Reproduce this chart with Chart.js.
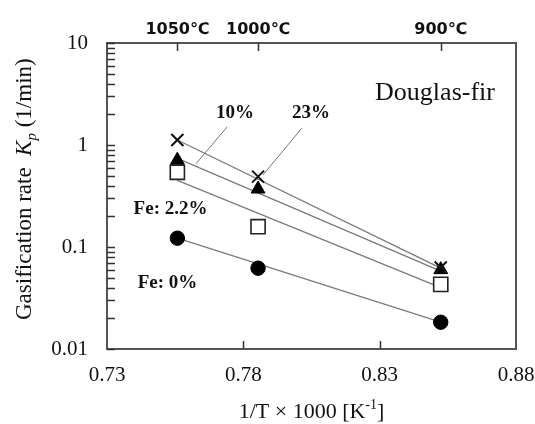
<!DOCTYPE html>
<html>
<head>
<meta charset="utf-8">
<script src="https://cdn.jsdelivr.net/npm/chart.js@4/dist/chart.umd.min.js"></script>
<style>
  body { margin: 0; background: #fff; }
  #wrap { width: 535px; height: 424px; }
</style>
</head>
<body>
<div id="wrap"><canvas id="rateChart"></canvas></div>
<script>
// temperatures on the top axis and their 1/T x 1000 positions
const tempLabels = ["1050℃", "1000℃", "900℃"];
const invT = [0.7558, 0.7854, 0.8524];

// measured gasification rates Kp (1/min)
const fe23 = [1.12, 0.49, 0.063];    // crosses, 23%
const fe10 = [0.71, 0.37, 0.060];    // filled triangles, 10%
const fe22 = [0.54, 0.158, 0.043];   // open squares, Fe: 2.2%
const fe0 = [0.122, 0.062, 0.0183];  // filled circles, Fe: 0%

// fitted lines (at the two end temperatures)
const fitX = [0.7558, 0.8524];
const fit23 = [1.12, 0.062];
const fit10 = [0.74, 0.058];
const fit22 = [0.45, 0.040];
const fit0 = [0.122, 0.0183];

// axis ticks
const xTicks = [0.73, 0.78, 0.83, 0.88];
const yTicks = [0.01, 0.1, 1, 10];

const SERIF = "'Liberation Serif', 'Times New Roman', serif";

function pts(xs, ys) {
    return xs.map((v, i) => ({ x: v, y: ys[i] }));
}

// **Markers**
function markerSet(data, style, radius, fill, border, bw) {
    return {
        data: pts(invT, data),
        showLine: false,
        pointStyle: style,
        pointRadius: radius,
        pointHoverRadius: radius,
        pointBackgroundColor: fill,
        pointBorderColor: border,
        pointBorderWidth: bw,
        order: 0
    };
}

// **Fit lines**
function lineSet(data) {
    return {
        data: pts(fitX, data),
        showLine: true,
        pointRadius: 0,
        borderColor: "#7a7a7a",
        borderWidth: 1.3,
        order: 1
    };
}

// **Extra drawing: box, inward ticks, axis titles, notes**
const extras = {
    id: "extras",
    afterDraw(chart) {
        const { ctx, chartArea: a, scales } = chart;
        const x = scales.x, y = scales.y;
        ctx.save();
        ctx.strokeStyle = "#555";
        ctx.lineWidth = 2;
        ctx.beginPath();
        ctx.moveTo(a.right, a.top - 1);
        ctx.lineTo(a.right, a.bottom + 1);
        ctx.stroke();

        ctx.lineWidth = 1.5;
        ctx.strokeStyle = "#333";
        ctx.beginPath();
        // log minor ticks on the left axis
        for (let d = 0.01; d < 10; d *= 10) {
            for (let m = 1; m <= 10; m++) {
                const py = Math.round(y.getPixelForValue(d * m)) + 0.5;
                ctx.moveTo(a.left, py);
                ctx.lineTo(a.left + 8, py);
            }
        }
        // bottom ticks
        xTicks.slice(1, -1).forEach(v => {
            const px = Math.round(x.getPixelForValue(v)) + 0.5;
            ctx.moveTo(px, a.bottom);
            ctx.lineTo(px, a.bottom - 8);
        });
        // top ticks
        invT.forEach(v => {
            const px = Math.round(x.getPixelForValue(v)) + 0.5;
            ctx.moveTo(px, a.top);
            ctx.lineTo(px, a.top + 8);
        });
        ctx.stroke();

        // leader lines
        ctx.strokeStyle = "#777";
        ctx.lineWidth = 1;
        ctx.beginPath();
        ctx.moveTo(x.getPixelForValue(0.7740), y.getPixelForValue(1.50));
        ctx.lineTo(x.getPixelForValue(0.7626), y.getPixelForValue(0.652));
        ctx.moveTo(x.getPixelForValue(0.8015), y.getPixelForValue(1.47));
        ctx.lineTo(x.getPixelForValue(0.7872), y.getPixelForValue(0.508));
        ctx.stroke();

        // notes
        ctx.fillStyle = "#111";
        ctx.textAlign = "center";
        ctx.textBaseline = "middle";
        ctx.font = "bold 19px " + SERIF;
        ctx.fillText("10%", x.getPixelForValue(0.7769), y.getPixelForValue(2.06));
        ctx.fillText("23%", x.getPixelForValue(0.8048), y.getPixelForValue(2.06));
        ctx.fillText("Fe: 2.2%", x.getPixelForValue(0.7533), y.getPixelForValue(0.236));
        ctx.fillText("Fe: 0%", x.getPixelForValue(0.7522), y.getPixelForValue(0.0444));
        ctx.font = "26px " + SERIF;
        ctx.fillText("Douglas-fir", x.getPixelForValue(0.8503), y.getPixelForValue(3.24));

        // x title with superscript
        ctx.textAlign = "left";
        ctx.textBaseline = "alphabetic";
        const t1 = "1/T × 1000 [K", t3 = "]";
        ctx.font = "14px " + SERIF;
        const w2 = ctx.measureText("-1").width;
        ctx.font = "22px " + SERIF;
        const w1 = ctx.measureText(t1).width, w3 = ctx.measureText(t3).width;
        let tx = (a.left + a.right) / 2 - (w1 + w2 + w3) / 2;
        const ty = 418;
        ctx.fillText(t1, tx, ty);
        ctx.font = "14px " + SERIF;
        ctx.fillText("-1", tx + w1, ty - 9);
        ctx.font = "22px " + SERIF;
        ctx.fillText(t3, tx + w1 + w2, ty);

        // y title with italic K and subscript p
        ctx.translate(31, 320);
        ctx.rotate(-Math.PI / 2);
        let px = 0;
        ctx.font = "23px " + SERIF;
        ctx.fillText("Gasification rate  ", px, 0);
        px += ctx.measureText("Gasification rate  ").width;
        ctx.font = "italic 23px " + SERIF;
        ctx.fillText("K", px, 0);
        px += ctx.measureText("K").width;
        ctx.font = "italic 15px " + SERIF;
        ctx.fillText("p", px, 5);
        px += ctx.measureText("p").width;
        ctx.font = "23px " + SERIF;
        ctx.fillText(" (1/min)", px, 0);
        ctx.restore();
    }
};

const ctx = document.getElementById("rateChart").getContext("2d");
new Chart(ctx, {
    type: "scatter",
    data: {
        datasets: [
            markerSet(fe23, "crossRot", 8.5, "#000", "#111", 2),
            markerSet(fe10, "triangle", 8, "#000", "#000", 1),
            markerSet(fe22, "rect", 10, "#fff", "#222", 1.6),
            markerSet(fe0, "circle", 7.2, "#000", "#000", 1),
            lineSet(fit23),
            lineSet(fit10),
            lineSet(fit22),
            lineSet(fit0)
        ]
    },
    options: {
        responsive: true,
        maintainAspectRatio: false,
        animation: false,
        layout: { padding: { left: 0, right: 19, top: 0, bottom: 0 } },
        plugins: {
            legend: { display: false },
            tooltip: { enabled: false }
        },
        scales: {
            x: {
                type: "linear",
                position: "bottom",
                min: 0.73,
                max: 0.88,
                afterBuildTicks: s => { s.ticks = xTicks.map(v => ({ value: v })); },
                afterFit: s => { s.height = 75; s.paddingLeft = 0; s.paddingRight = 0; },
                ticks: {
                    callback: v => v.toFixed(2),
                    font: { family: SERIF, size: 21 },
                    color: "#111",
                    padding: 14,
                    maxRotation: 0
                },
                grid: { display: false, drawTicks: false },
                border: { display: true, color: "#555", width: 2 }
            },
            x2: {
                type: "linear",
                position: "top",
                min: 0.73,
                max: 0.88,
                afterBuildTicks: s => { s.ticks = invT.map(v => ({ value: v })); },
                afterFit: s => { s.height = 43; s.paddingLeft = 0; s.paddingRight = 0; },
                ticks: {
                    callback: (v, i) => tempLabels[i],
                    font: { family: "'DejaVu Sans', sans-serif", size: 16, weight: "bold" },
                    color: "#111",
                    padding: 4,
                    maxRotation: 0
                },
                grid: { display: false, drawTicks: false },
                border: { display: true, color: "#555", width: 2 }
            },
            y: {
                type: "logarithmic",
                min: 0.01,
                max: 10,
                afterBuildTicks: s => { s.ticks = yTicks.map(v => ({ value: v })); },
                afterFit: s => { s.width = 107; },
                ticks: {
                    callback: v => String(v),
                    font: { family: SERIF, size: 21 },
                    color: "#111",
                    padding: 19
                },
                grid: { display: false, drawTicks: false },
                border: { display: true, color: "#555", width: 2 }
            }
        }
    },
    plugins: [extras]
});
</script>
</body>
</html>
